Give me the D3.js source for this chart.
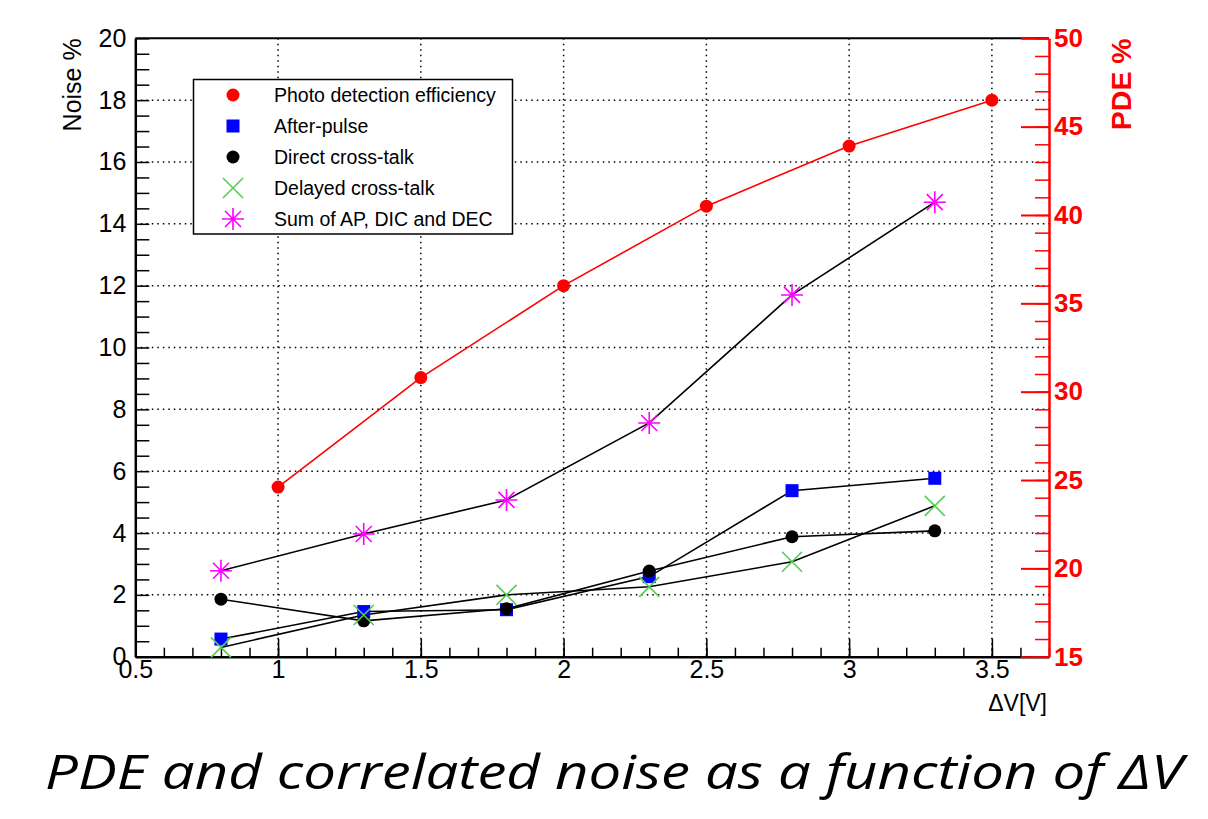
<!DOCTYPE html>
<meta charset="utf-8">
<style>

body {
  margin: 0;
  background: #fff;
}

text {
  font-family: "Liberation Sans", Arial, Helvetica, sans-serif;
}

.grid line {
  stroke: #000;
  stroke-width: 1.5px;
  stroke-dasharray: 1.5,4;
}

.title {
  font-family: "Open Sans", Lato, sans-serif;
  font-style: italic;
}

</style>
<svg width="1208" height="819"></svg>
<script src="https://cdn.jsdelivr.net/npm/d3@7"></script>
<script>

// bias voltage, noise series (left axis, %) and PDE (right axis, %)
var dvNoise = [0.8, 1.3, 1.8, 2.3, 2.8, 3.3],
    afterPulse = [0.57, 1.46, 1.52, 2.59, 5.37, 5.77],
    directCT = [1.86, 1.16, 1.55, 2.77, 3.88, 4.07],
    delayedCT = [0.3, 1.35, 2.0, 2.26, 3.07, 4.88],
    sumNoise = [2.78, 3.97, 5.07, 7.56, 11.7, 14.7];

var dvPde = [1, 1.5, 2, 2.5, 3, 3.5],
    pde = [24.6, 30.8, 36.0, 40.5, 43.9, 46.5];

var xTicks = [0.5, 1, 1.5, 2, 2.5, 3, 3.5],
    noiseTicks = [0, 2, 4, 6, 8, 10, 12, 14, 16, 18, 20],
    pdeTicks = [15, 20, 25, 30, 35, 40, 45, 50];

var legendLabels = ["Photo detection efficiency", "After-pulse", "Direct cross-talk",
    "Delayed cross-talk", "Sum of AP, DIC and DEC"];

var svg = d3.select("svg");

var x = d3.scaleLinear().domain([0.5, 3.7]).range([135.3, 1049]),
    yL = d3.scaleLinear().domain([0, 20]).range([656.7, 38.3]),
    yR = d3.scaleLinear().domain([15, 50]).range([656.7, 38.3]);

var frameL = x.range()[0], frameR = x.range()[1],
    frameB = yL.range()[0], frameT = yL.range()[1];

// dotted grid
var grid = svg.append("g").attr("class", "grid");
grid.selectAll(".gx")
  .data(xTicks.slice(1))
  .enter().append("line")
    .attr("x1", function(d) { return x(d); })
    .attr("x2", function(d) { return x(d); })
    .attr("y1", frameT)
    .attr("y2", frameB);
grid.selectAll(".gy")
  .data(noiseTicks.slice(1, -1))
  .enter().append("line")
    .attr("x1", frameL)
    .attr("x2", frameR)
    .attr("y1", function(d) { return yL(d); })
    .attr("y2", function(d) { return yL(d); });

// top frame
svg.append("line")
    .attr("x1", frameL).attr("x2", frameR)
    .attr("y1", frameT).attr("y2", frameT)
    .attr("stroke", "#000").attr("stroke-width", 2);

// left axis
svg.append("g")
    .attr("transform", "translate(" + frameL + ",0)")
    .call(d3.axisLeft(yL).tickValues(d3.range(0, 20.01, 0.5)).tickSize(-14).tickFormat(""))
    .call(function(g) { g.selectAll("line").attr("stroke-width", 1.5); g.select(".domain").remove(); });

svg.append("g")
    .attr("transform", "translate(" + frameL + ",0)")
    .call(d3.axisLeft(yL).tickValues(noiseTicks).tickSize(0).tickPadding(9))
    .call(function(g) {
      g.select(".domain").attr("stroke-width", 2.5);
      g.selectAll("text").attr("font-size", 25).attr("font-family", "Liberation Sans");
    });

// bottom axis
svg.append("g")
    .attr("transform", "translate(0," + frameB + ")")
    .call(d3.axisBottom(x).tickValues(d3.range(0.5, 3.701, 0.1)).tickSize(-9).tickFormat(""))
    .call(function(g) { g.selectAll("line").attr("stroke-width", 1.5); g.select(".domain").remove(); });

svg.append("g")
    .attr("transform", "translate(0," + frameB + ")")
    .call(d3.axisBottom(x).tickValues(xTicks).tickSize(-18).tickSizeOuter(0).tickPadding(4)
        .tickFormat(function(d) { return d; }))
    .call(function(g) {
      g.select(".domain").attr("stroke-width", 2.5);
      g.selectAll("line").attr("stroke-width", 1.5);
      g.selectAll("text").attr("font-size", 25).attr("font-family", "Liberation Sans");
    });

// right axis (PDE)
svg.append("g")
    .attr("transform", "translate(" + frameR + ",0)")
    .call(d3.axisRight(yR).tickValues(d3.range(15, 50.01, 1)).tickSize(-14).tickFormat(""))
    .call(function(g) { g.selectAll("line").attr("stroke", "#ff0000").attr("stroke-width", 1.5); g.select(".domain").remove(); });

svg.append("g")
    .attr("transform", "translate(" + frameR + ",0)")
    .call(d3.axisRight(yR).tickValues(pdeTicks).tickSize(-28).tickSizeOuter(0).tickPadding(5))
    .call(function(g) {
      g.select(".domain").attr("stroke", "#ff0000").attr("stroke-width", 2.5);
      g.selectAll("line").attr("stroke", "#ff0000").attr("stroke-width", 2);
      g.selectAll("text").attr("fill", "#ff0000").attr("font-size", 26)
          .attr("font-weight", "bold").attr("font-family", "Liberation Sans");
    });

// axis titles
svg.append("text")
    .attr("transform", "translate(81," + frameT + ") rotate(-90)")
    .attr("text-anchor", "end")
    .attr("font-size", 25)
    .text("Noise %");

svg.append("text")
    .attr("transform", "translate(1131," + frameT + ") rotate(-90)")
    .attr("text-anchor", "end")
    .attr("font-size", 28.5)
    .attr("font-weight", "bold")
    .attr("fill", "#ff0000")
    .text("PDE %");

svg.append("text")
    .attr("x", 1047)
    .attr("y", 711)
    .attr("text-anchor", "end")
    .attr("font-size", 23)
    .text("\u0394V[V]");

// series lines
var noiseLine = function(vals) {
  return d3.line()
      .x(function(d, i) { return x(dvNoise[i]); })
      .y(function(d) { return yL(d); })(vals);
};

[afterPulse, directCT, delayedCT, sumNoise].forEach(function(s) {
  svg.append("path")
      .attr("d", noiseLine(s))
      .attr("fill", "none")
      .attr("stroke", "#000")
      .attr("stroke-width", 1.6);
});

svg.append("path")
    .attr("d", d3.line()
        .x(function(d, i) { return x(dvPde[i]); })
        .y(function(d) { return yR(d); })(pde))
    .attr("fill", "none")
    .attr("stroke", "#ff0000")
    .attr("stroke-width", 1.6);

// markers
function circle(g, color) {
  g.append("circle").attr("r", 6.5).attr("fill", color);
}
function square(g, color) {
  g.append("rect").attr("x", -6.5).attr("y", -6.5).attr("width", 13).attr("height", 13).attr("fill", color);
}
function cross(g, color) {
  g.append("path").attr("d", "M-10,-10L10,10M-10,10L10,-10")
      .attr("stroke", color).attr("stroke-width", 1.6);
}
function star(g, color) {
  g.append("path").attr("d", "M-11,0H11M0,-11V11M-8,-8L8,8M-8,8L8,-8")
      .attr("stroke", color).attr("stroke-width", 1.6);
}

function drawMarkers(xs, vals, scale, shape, color) {
  svg.append("g").selectAll("g")
    .data(vals)
    .enter().append("g")
      .attr("transform", function(d, i) { return "translate(" + x(xs[i]) + "," + scale(d) + ")"; })
      .each(function() { shape(d3.select(this), color); });
}

drawMarkers(dvPde, pde, yR, circle, "#ff0000");
drawMarkers(dvNoise, afterPulse, yL, square, "#0000ff");
drawMarkers(dvNoise, directCT, yL, circle, "#000");
drawMarkers(dvNoise, delayedCT, yL, cross, "#55cc55");
drawMarkers(dvNoise, sumNoise, yL, star, "#ff00ff");

// legend
var legend = svg.append("g");
legend.append("rect")
    .attr("x", 193.5).attr("y", 79.5)
    .attr("width", 319).attr("height", 154.5)
    .attr("fill", "#fff").attr("stroke", "#000").attr("stroke-width", 1.5);

var legendShapes = [[circle, "#ff0000"], [square, "#0000ff"], [circle, "#000"],
    [cross, "#55cc55"], [star, "#ff00ff"]];

legend.selectAll(".entry")
  .data(legendLabels)
  .enter().append("g")
    .attr("transform", function(d, i) { return "translate(0," + (95 + i * 31) + ")"; })
    .each(function(d, i) {
      var g = d3.select(this);
      legendShapes[i][0](g.append("g").attr("transform", "translate(233,0)"), legendShapes[i][1]);
      g.append("text")
          .attr("x", 274)
          .attr("dy", "0.36em")
          .attr("font-size", 19.5)
          .text(d);
    });

// caption, stretched to the width of the original line
svg.append("text")
    .attr("class", "title")
    .attr("x", 45)
    .attr("y", 789)
    .attr("font-size", 47)
    .attr("textLength", 1138)
    .attr("lengthAdjust", "spacingAndGlyphs")
    .text("PDE and correlated noise as a function of \u0394V");

</script>
